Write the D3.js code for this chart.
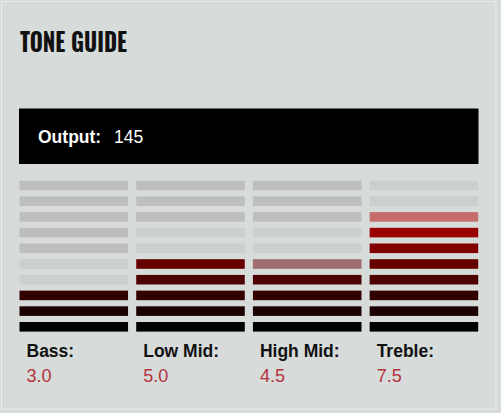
<!DOCTYPE html>
<html>
<head>
    <script src="https://d3js.org/d3.v7.min.js"></script>
    <style>
        html, body { margin: 0; padding: 0; background: #d7dbda; }
        svg { display: block; }
        .title { font-family: "Oswald", "Liberation Sans Narrow", "DejaVu Sans Condensed", sans-serif; font-weight: bold; font-size: 26px; fill: #111; }
        .out-label { font-family: "Liberation Sans", Arial, sans-serif; font-weight: bold; font-size: 17.5px; fill: #fff; }
        .out-value { font-family: "Liberation Sans", Arial, sans-serif; font-size: 17.5px; fill: #fff; }
        .band-label { font-family: "Liberation Sans", Arial, sans-serif; font-weight: bold; font-size: 17.5px; fill: #111; }
        .band-value { font-family: "Liberation Sans", Arial, sans-serif; font-size: 18px; fill: #b3323b; }
    </style>
</head>
<body>
    <svg width="501" height="413"></svg>
    <script>
        // tone controls and their settings (0-10)
        const bands = ['Bass', 'Low Mid', 'High Mid', 'Treble'];
        const levels = [3.0, 5.0, 4.5, 7.5];
        const output = 145;
        const segments = d3.range(1, 11);

        const svg = d3.select('svg');

        // outer frame
        svg.append('rect')
            .attr('x', 1.5).attr('y', 1.5)
            .attr('width', 494.5).attr('height', 407.5)
            .attr('fill', 'none')
            .attr('stroke', '#e9ebeb')
            .attr('stroke-width', 1);

        svg.append('text')
            .attr('class', 'title')
            .attr('x', 20).attr('y', 52)
            .attr('textLength', 107)
            .attr('lengthAdjust', 'spacingAndGlyphs')
            .text('TONE GUIDE');

        // output box
        svg.append('rect')
            .attr('x', 19).attr('y', 108.5)
            .attr('width', 459.5).attr('height', 55.5)
            .attr('fill', '#000');

        svg.append('text')
            .attr('class', 'out-label')
            .attr('x', 38).attr('y', 142.5)
            .text('Output:');

        svg.append('text')
            .attr('class', 'out-value')
            .attr('x', 114).attr('y', 142.5)
            .text(output);

        const x = d3.scaleBand()
            .domain(bands)
            .range([19.5, 478.2])
            .paddingInner(0.07);

        const y = d3.scaleBand()
            .domain(segments.slice().reverse())
            .range([180.7, 331.6])
            .paddingInner(0.39);

        const color = d3.scaleLinear()
            .domain([1, 10])
            .range(['#000000', '#e60000']);

        function segFill(seg, level) {
            if (seg <= Math.floor(level)) return color(seg);
            if (seg - 1 < level) return color(seg);
            // the two segments just above the level are lighter
            if (seg <= Math.ceil(level) + 2) return '#cbcfce';
            return '#bebebe';
        }
        function segOpacity(seg, level) {
            if (seg > level && seg - 1 < level) return level - (seg - 1);
            return 1;
        }

        const cols = svg.selectAll('.band')
            .data(bands.map((b, i) => ({band: b, level: levels[i]})))
            .enter()
            .append('g')
            .attr('class', 'band');

        cols.selectAll('rect')
            .data(d => segments.map(s => ({seg: s, level: d.level, band: d.band})))
            .enter()
            .append('rect')
            .attr('x', d => x(d.band))
            .attr('y', d => y(d.seg))
            .attr('width', x.bandwidth())
            .attr('height', y.bandwidth())
            .attr('fill', d => segFill(d.seg, d.level))
            .attr('fill-opacity', d => segOpacity(d.seg, d.level));

        cols.append('text')
            .attr('class', 'band-label')
            .attr('x', d => x(d.band) + 7)
            .attr('y', 357)
            .text(d => d.band + ':');

        cols.append('text')
            .attr('class', 'band-value')
            .attr('x', d => x(d.band) + 7)
            .attr('y', 381.5)
            .text(d => d.level.toFixed(1));
    </script>
</body>
</html>
